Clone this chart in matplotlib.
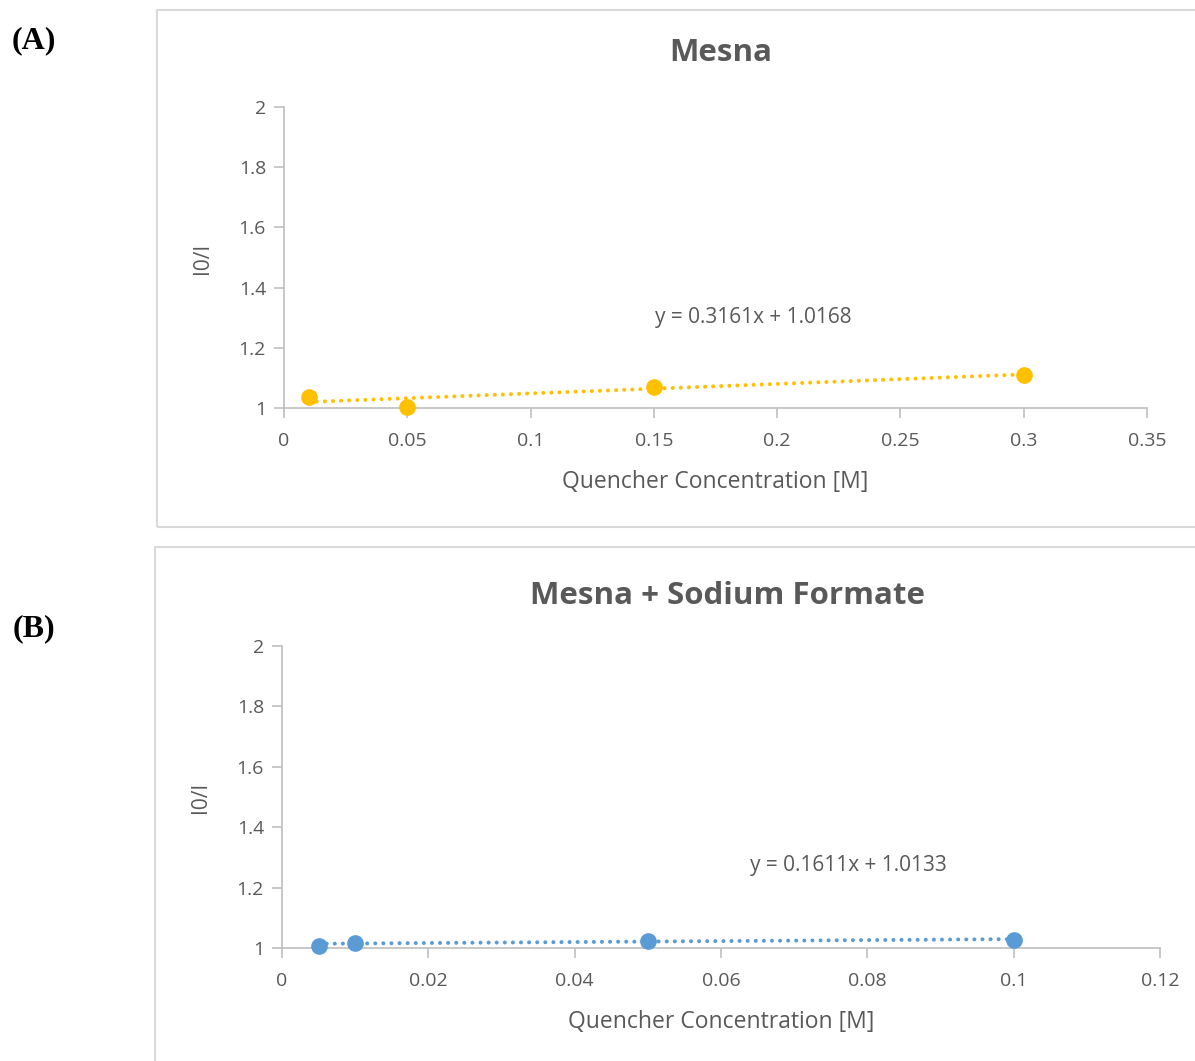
import numpy as np
import matplotlib
matplotlib.use('Agg')
from matplotlib import pyplot as plt
from matplotlib.patches import Rectangle

plt.rcParams['font.family'] = ['Open Sans', 'DejaVu Sans']

# (A) Mesna
xa = [0.01, 0.05, 0.15, 0.3]
ya = [1.037, 1.003, 1.070, 1.110]
fit_a = (0.3161, 1.0168)
# (B) Mesna + Sodium Formate
xb = [0.005, 0.01, 0.05, 0.1]
yb = [1.007, 1.017, 1.023, 1.026]
fit_b = (0.1611, 1.0133)

W, H = 1195, 1061
fig = plt.figure(figsize=(W / 100, H / 100), dpi=100)

grey = '#595959'
axis_col = '#bfbfbf'


def fx(px):
    return px / W


def fy(py):
    return 1 - py / H


# 面板外框
fig.patches.append(Rectangle((fx(157), fy(527)), fx(1300 - 157), fy(10) - fy(527),
                             transform=fig.transFigure, fill=False, ec='#d9d9d9', lw=1.5))
fig.patches.append(Rectangle((fx(155), fy(1100)), fx(1300 - 155), fy(547) - fy(1100),
                             transform=fig.transFigure, fill=False, ec='#d9d9d9', lw=1.5))


def panel(box, x, y, fit, color, xmax, xstep, title, eq_pos, title_pos, ylab_pos):
    l, t, r, b = box
    ax = fig.add_axes([fx(l), fy(b), fx(r - l), fy(t) - fy(b)])
    ax.set_xlim(0, xmax)
    ax.set_ylim(1, 2)
    xs = np.array([x[0], x[-1]])
    ax.plot(xs, fit[0] * xs + fit[1], ls=(0, (0.01, 2.0)), lw=2.9, color=color,
            dash_capstyle='round', zorder=2)
    ax.plot(x, y, 'o', ms=11, color=color, zorder=3, clip_on=False)
    for s in ['top', 'right']:
        ax.spines[s].set_visible(False)
    for s in ['left', 'bottom']:
        ax.spines[s].set_color(axis_col)
        ax.spines[s].set_linewidth(1.2)
    ax.set_yticks(np.arange(1, 2.01, 0.2))
    ax.set_yticklabels(['1', '1.2', '1.4', '1.6', '1.8', '2'])
    ticks = np.arange(0, xmax + 1e-9, xstep)
    ax.set_xticks(ticks)
    ax.set_xticklabels([('%.2f' % v).rstrip('0').rstrip('.') for v in ticks])
    ax.tick_params(colors=axis_col, labelcolor=grey, labelsize=14, length=7, width=1.2)
    ax.tick_params(axis='x', pad=10)
    ax.tick_params(axis='y', pad=6)
    ax.set_xlabel('Quencher Concentration [M]', fontsize=16.5, color=grey, labelpad=15)
    fig.text(fx(ylab_pos[0]), fy(ylab_pos[1]), 'I0/I', rotation=90, fontsize=15,
             color=grey, ha='center', va='center')
    fig.text(fx(title_pos[0]), fy(title_pos[1]), title, fontsize=22.5, fontweight='bold',
             color=grey, ha='center', va='center')
    fig.text(fx(eq_pos[0]), fy(eq_pos[1]), 'y = %.4fx + %.4f' % fit, fontsize=15,
             color=grey, ha='center', va='center')
    return ax


panel((284, 107, 1147, 408), xa, ya, fit_a, '#FFC000', 0.35, 0.05,
      'Mesna', (753, 318), (721, 53), (203, 258))
panel((282, 646, 1160, 948), xb, yb, fit_b, '#5B9BD5', 0.12, 0.02,
      'Mesna + Sodium Formate', (848, 866), (728, 596), (200, 797))

fig.text(fx(34), fy(41), '(A)', fontsize=23, fontweight='bold', family='Liberation Serif',
         ha='center', va='center')
fig.text(fx(34), fy(629), '(B)', fontsize=23, fontweight='bold', family='Liberation Serif',
         ha='center', va='center')

plt.savefig('out.png', dpi=100)
